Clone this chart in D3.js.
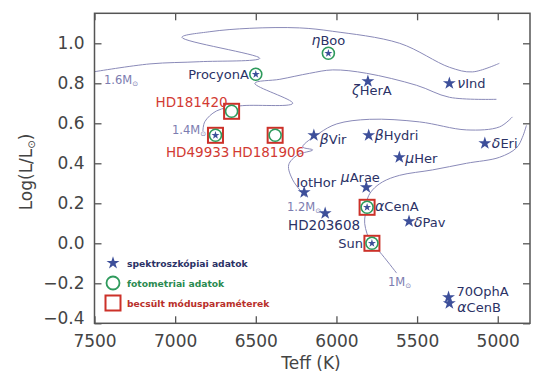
<!DOCTYPE html>
<html>
<head>
<meta charset="utf-8">
<script src="https://cdn.jsdelivr.net/npm/d3@7"></script>
<style>
  body { margin: 0; background: #fff; }
  text { font-family: "DejaVu Sans", sans-serif; }
</style>
</head>
<body>
<svg id="canvas" width="540" height="385"></svg>
<script>
// star data: name, Teff (K), log(L/Lsun)
const starNames = ["ProcyonA", "ηBoo", "HD181420", "HD49933", "HD181906", "ζHerA", "νInd", "βVir",
  "βHydri", "δEri", "μHer", "μArae", "IotHor", "αCenA", "HD203608", "δPav", "Sun", "70OphA", "αCenB"];
const starTeff = [6500, 6050, 6650, 6750, 6380, 5805, 5300, 6140, 5800, 5080, 5610, 5815, 6200, 5810, 6070, 5550, 5780, 5305, 5300];
const starLogL = [0.845, 0.95, 0.66, 0.54, 0.54, 0.81, 0.80, 0.54, 0.54, 0.50, 0.43, 0.28, 0.255, 0.18, 0.15, 0.11, 0.0, -0.27, -0.30];

// which data each star has
const spectroStars = ["ProcyonA", "ηBoo", "HD49933", "ζHerA", "νInd", "βVir", "βHydri", "δEri", "μHer",
  "μArae", "IotHor", "αCenA", "HD203608", "δPav", "Sun", "70OphA", "αCenB"];
const photoStars = ["ProcyonA", "ηBoo", "HD181420", "HD49933", "HD181906", "αCenA", "Sun"];
const modeStars = ["HD181420", "HD49933", "HD181906", "αCenA", "Sun"];

// evolutionary tracks [Teff, logL]
const track16 = [[7500, 0.858], [7156, 0.897], [6847, 0.908], [6475, 0.925], [6958, 1.03], [6785, 1.058],
  [6537, 1.075], [6228, 1.077], [6023, 1.06], [5608, 1.0], [5299, 0.88], [5157, 0.857], [4990, 0.90]];
const track14 = [[6828, 0.561], [6816, 0.608], [6743, 0.662], [6599, 0.687], [6271, 0.70], [6506, 0.80],
  [6351, 0.82], [6166, 0.85], [6023, 0.867], [5813, 0.85], [5503, 0.79], [5299, 0.73], [5008, 0.72]];
const track12 = [[6190, 0.232], [6271, 0.317], [6296, 0.392], [6240, 0.442], [6147, 0.467], [6209, 0.482],
  [6104, 0.552], [5998, 0.597], [5794, 0.62], [5485, 0.607], [5194, 0.567], [4989, 0.582], [4909, 0.632]];
const track10 = [[5627, -0.149], [5732, -0.043], [5784, 0.0], [5825, 0.10], [5813, 0.18], [5806, 0.227],
  [5776, 0.267], [5714, 0.307], [5608, 0.34], [5404, 0.367], [5194, 0.40], [4989, 0.43], [4884, 0.477],
  [4847, 0.53], [4822, 0.59]];
const trackMasses = ["1.6", "1.4", "1.2", "1"];

const xTicks = [7500, 7000, 6500, 6000, 5500, 5000];
const yTicks = [-0.4, -0.2, 0.0, 0.2, 0.4, 0.6, 0.8, 1.0];

const legendLabels = ["spektroszkópiai adatok", "fotometriai adatok", "becsült módusparaméterek"];

// layout
const mLeft = 94.5, mRight = 530, mTop = 13.3, mBottom = 323.3;
const starBlue = "#3d4f9a", green = "#2e9a5c", red = "#cc3129", trackCol = "#8a8ab8", textBlue = "#2b3266";

const svg = d3.select("#canvas");
const x = d3.scaleLinear().domain([7500, 4800]).range([mLeft, mRight]);
const y = d3.scaleLinear().domain([-0.4, 1.15]).range([mBottom, mTop]);

const plot = svg.append("g");
plot.append("clipPath").attr("id", "clip").append("rect")
  .attr("x", mLeft).attr("y", mTop).attr("width", mRight - mLeft).attr("height", mBottom - mTop);

// tracks
const line = d3.line().x(d => x(d[0])).y(d => y(d[1])).curve(d3.curveCatmullRom.alpha(0.5));
plot.append("g").attr("clip-path", "url(#clip)")
  .selectAll("path").data([track16, track14, track12, track10]).join("path")
  .attr("d", line).attr("fill", "none").attr("stroke", trackCol).attr("stroke-width", 1);

// mass labels
const massPos = [[104, 84], [172, 134], [287, 211], [388, 286]];
massPos.forEach((p, i) => {
  const t = plot.append("text").attr("x", p[0]).attr("y", p[1])
    .attr("font-size", 11.5).attr("fill", "#7c7cb0");
  t.append("tspan").text(trackMasses[i] + "M");
  t.append("tspan").text("⊙").attr("font-size", 7).attr("dy", 2);
});

// markers
const starSym = d3.symbol(d3.symbolStar);
const stars = starNames.map((n, i) => ({ name: n, t: starTeff[i], l: starLogL[i],
  spec: spectroStars.includes(n), phot: photoStars.includes(n), mode: modeStars.includes(n) }));

const mk = plot.append("g").selectAll("g").data(stars).join("g")
  .attr("transform", d => `translate(${x(d.t)},${y(d.l)})`);

mk.filter(d => d.mode).append("rect")
  .attr("x", -7.5).attr("y", -7.5).attr("width", 15).attr("height", 15)
  .attr("fill", "#fff").attr("stroke", red).attr("stroke-width", 2);
mk.filter(d => d.phot).append("circle").attr("r", 6)
  .attr("fill", "#fff").attr("stroke", green).attr("stroke-width", 1.6);
mk.filter(d => d.spec).append("path")
  .attr("d", d => starSym.size(d.phot ? 20 : 52)())
  .attr("fill", starBlue);

// star labels [dx, dy, anchor]
const labelPos = {
  "ProcyonA": [-7, 5, "end"], "ηBoo": [0, -8, "middle"], "HD181420": [-4, -4, "end"],
  "HD49933": [14, 22, "end"], "HD181906": [-43, 22, "start"], "ζHerA": [4, 14, "middle"],
  "νInd": [8, 5, "start"], "βVir": [6, 9, "start"], "βHydri": [6, 5, "start"], "δEri": [7, 5, "start"],
  "μHer": [6, 6, "start"], "μArae": [-6, -5, "middle"], "IotHor": [-8, -5, "start"],
  "αCenA": [8, 4, "start"], "HD203608": [35, 17, "end"], "δPav": [5, 6, "start"], "Sun": [-9, 5, "end"],
  "70OphA": [8, -1, "start"], "αCenB": [8, 9, "start"]
};
const redNames = ["HD181420", "HD49933", "HD181906"];
const greek = /^[α-ω]/;
const lab = plot.append("g").selectAll("text").data(stars).join("text")
  .attr("x", d => x(d.t) + labelPos[d.name][0])
  .attr("y", d => y(d.l) + labelPos[d.name][1])
  .attr("text-anchor", d => labelPos[d.name][2])
  .attr("font-size", d => redNames.includes(d.name) || d.name === "HD203608" ? 13.5 : 13)
  .attr("fill", d => redNames.includes(d.name) ? "#d23a33" : textBlue);
lab.each(function (d) {
  const t = d3.select(this);
  if (greek.test(d.name)) {
    t.append("tspan").text(d.name[0]).attr("font-size", 14).attr("font-style", "italic");
    t.append("tspan").text(d.name.slice(1));
  } else t.text(d.name);
});

// frame with inward ticks
svg.append("rect").attr("x", mLeft).attr("y", mTop).attr("width", mRight - mLeft).attr("height", mBottom - mTop)
  .attr("fill", "none").attr("stroke", "#555").attr("stroke-width", 1.5);

const axB = svg.append("g").attr("transform", `translate(0,${mBottom})`)
  .call(d3.axisBottom(x).tickValues(xTicks).tickSizeInner(-7).tickSizeOuter(0).tickPadding(12)
    .tickFormat(d3.format("d")));
const axT = svg.append("g").attr("transform", `translate(0,${mTop})`)
  .call(d3.axisTop(x).tickValues(xTicks).tickSizeInner(-7).tickSizeOuter(0).tickFormat(""));
const axL = svg.append("g").attr("transform", `translate(${mLeft},0)`)
  .call(d3.axisLeft(y).tickValues(yTicks).tickSizeInner(-7).tickSizeOuter(0).tickPadding(10)
    .tickFormat(d => d3.format(".1f")(d).replace("-", "−")));
const axR = svg.append("g").attr("transform", `translate(${mRight},0)`)
  .call(d3.axisRight(y).tickValues(yTicks).tickSizeInner(-7).tickSizeOuter(0).tickFormat(""));
[axB, axT, axL, axR].forEach(a => {
  a.select(".domain").remove();
  a.selectAll("line").attr("stroke", "#555").attr("stroke-width", 1.3);
  a.selectAll("text").attr("font-size", 17).attr("fill", "#444")
    .attr("font-family", "DejaVu Sans, sans-serif");
});
axL.selectAll(".tick").filter(d => d === -0.4).select("text").attr("dy", "0.0em");

// axis titles
svg.append("text").attr("x", 311).attr("y", 369).attr("text-anchor", "middle")
  .attr("font-size", 17).attr("fill", "#444").text("Teff (K)");
const yt = svg.append("text").attr("transform", "translate(32,172) rotate(-90)")
  .attr("text-anchor", "middle").attr("font-size", 17).attr("fill", "#444");
yt.append("tspan").text("Log(L/L");
yt.append("tspan").text("⊙").attr("font-size", 10).attr("dy", 3);
yt.append("tspan").text(")").attr("dy", -3);

// legend
const lg = svg.append("g").attr("transform", "translate(113,263)");
const legCols = [textBlue, "#2a8a50", "#b8302b"];
legendLabels.forEach((s, i) => {
  const g = lg.append("g").attr("transform", `translate(0,${i * 20})`);
  if (i === 0) g.append("path").attr("d", starSym.size(52)()).attr("fill", starBlue);
  if (i === 1) g.append("circle").attr("r", 6.5).attr("fill", "none").attr("stroke", green).attr("stroke-width", 1.8);
  if (i === 2) g.append("rect").attr("x", -7.5).attr("y", -7.5).attr("width", 15).attr("height", 15)
    .attr("fill", "none").attr("stroke", red).attr("stroke-width", 2);
  g.append("text").attr("x", 14).attr("y", 3.5).attr("font-size", 9.2).attr("font-weight", "bold")
    .attr("fill", legCols[i]).text(s);
});
</script>
</body>
</html>
